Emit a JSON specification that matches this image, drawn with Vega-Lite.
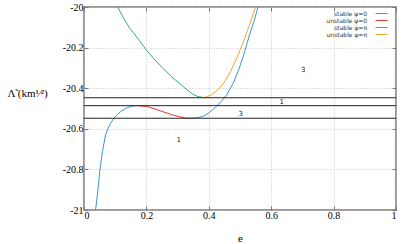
{
  "$schema": "https://vega.github.io/schema/vega-lite/v6.json",
  "autosize": "none",
  "width": 312,
  "height": 203,
  "padding": {"left": 84, "top": 7, "right": 11, "bottom": 34},
  "background": "white",
  "config": {
    "view": {"stroke": "#777777", "strokeWidth": 1.5},
    "axis": {
      "labelFont": "Liberation Serif",
      "labelFontSize": 10,
      "labelColor": "#000000",
      "titleFont": "Liberation Serif",
      "titleFontSize": 11,
      "titleFontWeight": "normal",
      "titleColor": "#000000",
      "domain": false,
      "tickColor": "#777777",
      "tickSize": -4,
      "gridColor": "#c4c4c4",
      "gridDash": [1, 2],
      "gridWidth": 1
    }
  },
  "datasets": {
    "curves": [
      {"s": "stable ψ=0", "b": "a", "e": 0.037, "L": -21.0},
      {"s": "stable ψ=0", "b": "a", "e": 0.041, "L": -20.95},
      {"s": "stable ψ=0", "b": "a", "e": 0.045, "L": -20.893},
      {"s": "stable ψ=0", "b": "a", "e": 0.051, "L": -20.803},
      {"s": "stable ψ=0", "b": "a", "e": 0.059, "L": -20.713},
      {"s": "stable ψ=0", "b": "a", "e": 0.069, "L": -20.631},
      {"s": "stable ψ=0", "b": "a", "e": 0.077, "L": -20.598},
      {"s": "stable ψ=0", "b": "a", "e": 0.085, "L": -20.573},
      {"s": "stable ψ=0", "b": "a", "e": 0.096, "L": -20.548},
      {"s": "stable ψ=0", "b": "a", "e": 0.107, "L": -20.53},
      {"s": "stable ψ=0", "b": "a", "e": 0.117, "L": -20.516},
      {"s": "stable ψ=0", "b": "a", "e": 0.138, "L": -20.496},
      {"s": "stable ψ=0", "b": "a", "e": 0.155, "L": -20.488},
      {"s": "stable ψ=0", "b": "a", "e": 0.172, "L": -20.486},
      {"s": "unstable ψ=0", "b": "r", "e": 0.172, "L": -20.486},
      {"s": "unstable ψ=0", "b": "r", "e": 0.2, "L": -20.49},
      {"s": "unstable ψ=0", "b": "r", "e": 0.225, "L": -20.501},
      {"s": "unstable ψ=0", "b": "r", "e": 0.253, "L": -20.516},
      {"s": "unstable ψ=0", "b": "r", "e": 0.28, "L": -20.53},
      {"s": "unstable ψ=0", "b": "r", "e": 0.307, "L": -20.541},
      {"s": "unstable ψ=0", "b": "r", "e": 0.325, "L": -20.547},
      {"s": "unstable ψ=0", "b": "r", "e": 0.339, "L": -20.548},
      {"s": "stable ψ=0", "b": "c", "e": 0.339, "L": -20.548},
      {"s": "stable ψ=0", "b": "c", "e": 0.36, "L": -20.546},
      {"s": "stable ψ=0", "b": "c", "e": 0.381, "L": -20.539},
      {"s": "stable ψ=0", "b": "c", "e": 0.4, "L": -20.522},
      {"s": "stable ψ=0", "b": "c", "e": 0.419, "L": -20.498},
      {"s": "stable ψ=0", "b": "c", "e": 0.44, "L": -20.465},
      {"s": "stable ψ=0", "b": "c", "e": 0.456, "L": -20.436},
      {"s": "stable ψ=0", "b": "c", "e": 0.48, "L": -20.37},
      {"s": "stable ψ=0", "b": "c", "e": 0.498, "L": -20.3},
      {"s": "stable ψ=0", "b": "c", "e": 0.515, "L": -20.22},
      {"s": "stable ψ=0", "b": "c", "e": 0.53, "L": -20.14},
      {"s": "stable ψ=0", "b": "c", "e": 0.545, "L": -20.07},
      {"s": "stable ψ=0", "b": "c", "e": 0.558, "L": -20.0},
      {"s": "stable ψ=π", "b": "g", "e": 0.108, "L": -20.0},
      {"s": "stable ψ=π", "b": "g", "e": 0.125, "L": -20.05},
      {"s": "stable ψ=π", "b": "g", "e": 0.147, "L": -20.105},
      {"s": "stable ψ=π", "b": "g", "e": 0.175, "L": -20.16},
      {"s": "stable ψ=π", "b": "g", "e": 0.2, "L": -20.212},
      {"s": "stable ψ=π", "b": "g", "e": 0.227, "L": -20.26},
      {"s": "stable ψ=π", "b": "g", "e": 0.253, "L": -20.302},
      {"s": "stable ψ=π", "b": "g", "e": 0.28, "L": -20.343},
      {"s": "stable ψ=π", "b": "g", "e": 0.307, "L": -20.377},
      {"s": "stable ψ=π", "b": "g", "e": 0.33, "L": -20.408},
      {"s": "stable ψ=π", "b": "g", "e": 0.349, "L": -20.43},
      {"s": "stable ψ=π", "b": "g", "e": 0.365, "L": -20.441},
      {"s": "stable ψ=π", "b": "g", "e": 0.383, "L": -20.446},
      {"s": "unstable ψ=π", "b": "o", "e": 0.383, "L": -20.446},
      {"s": "unstable ψ=π", "b": "o", "e": 0.395, "L": -20.442},
      {"s": "unstable ψ=π", "b": "o", "e": 0.41, "L": -20.431},
      {"s": "unstable ψ=π", "b": "o", "e": 0.43, "L": -20.407},
      {"s": "unstable ψ=π", "b": "o", "e": 0.45, "L": -20.37},
      {"s": "unstable ψ=π", "b": "o", "e": 0.47, "L": -20.317},
      {"s": "unstable ψ=π", "b": "o", "e": 0.49, "L": -20.25},
      {"s": "unstable ψ=π", "b": "o", "e": 0.51, "L": -20.175},
      {"s": "unstable ψ=π", "b": "o", "e": 0.53, "L": -20.09},
      {"s": "unstable ψ=π", "b": "o", "e": 0.55, "L": -20.0}
    ],
    "levels": [
      {"L": -20.447},
      {"L": -20.486},
      {"L": -20.548}
    ],
    "labels": [
      {"e": 0.703, "L": -20.31, "t": "3"},
      {"e": 0.634, "L": -20.47, "t": "1"},
      {"e": 0.502, "L": -20.527, "t": "3"},
      {"e": 0.304, "L": -20.657, "t": "1"}
    ]
  },
  "layer": [
    {
      "data": {"name": "curves"},
      "mark": {"type": "line", "strokeWidth": 1, "clip": true},
      "encoding": {
        "x": {
          "field": "e", "type": "quantitative",
          "scale": {"domain": [0, 1], "nice": false, "zero": false},
          "axis": {"title": "e", "values": [0, 0.2, 0.4, 0.6, 0.8, 1], "labelExpr": "'' + datum.value", "labelPadding": 4, "titleY": 22, "titleBaseline": "top"},
          "sort": null
        },
        "y": {
          "field": "L", "type": "quantitative",
          "scale": {"domain": [-21, -20], "nice": false, "zero": false},
          "axis": {
            "title": "Λ̃ (km¹⁄²)",
            "values": [-21, -20.8, -20.6, -20.4, -20.2, -20],
            "labelExpr": "'' + datum.value",
            "labelPadding": 5,
            "titleAngle": 0,
            "titleX": -57,
            "titleY": 86,
            "titleAlign": "center",
            "titleBaseline": "middle"
          }
        },
        "order": {"field": "e", "type": "quantitative"},
        "detail": {"field": "b"},
        "color": {
          "field": "s", "type": "nominal",
          "scale": {
            "domain": ["stable ψ=0", "unstable ψ=0", "stable ψ=π", "unstable ψ=π"],
            "range": ["#3a95d6", "#e8362c", "#2bb28a", "#eea632"]
          },
          "legend": {
            "title": null,
            "orient": "none",
            "legendX": 294,
            "legendY": 3,
            "padding": 0,
            "symbolType": "M-2,0H2",
            "symbolSize": 36,
            "symbolStrokeWidth": 1,
            "labelFont": "DejaVu Sans",
            "labelFontSize": 6,
            "labelColor": "#333333",
            "labelAlign": "right",
            "labelOffset": -18,
            "rowPadding": 0
          }
        }
      }
    },
    {
      "data": {"name": "levels"},
      "mark": {"type": "rule", "color": "#222222", "strokeWidth": 1},
      "encoding": {
        "y": {
          "field": "L", "type": "quantitative",
          "axis": {"orient": "right", "labels": false, "grid": false, "title": null, "values": [-21, -20.8, -20.6, -20.4, -20.2, -20]}
        }
      }
    },
    {
      "data": {"name": "labels"},
      "mark": {"type": "text", "font": "DejaVu Sans", "fontSize": 7, "color": "#222222"},
      "encoding": {
        "x": {
          "field": "e", "type": "quantitative",
          "axis": {"orient": "top", "labels": false, "grid": false, "title": null, "values": [0, 0.2, 0.4, 0.6, 0.8, 1]}
        },
        "y": {"field": "L", "type": "quantitative", "axis": null},
        "text": {"field": "t"}
      }
    }
  ],
  "resolve": {"axis": {"x": "independent", "y": "independent"}}
}
